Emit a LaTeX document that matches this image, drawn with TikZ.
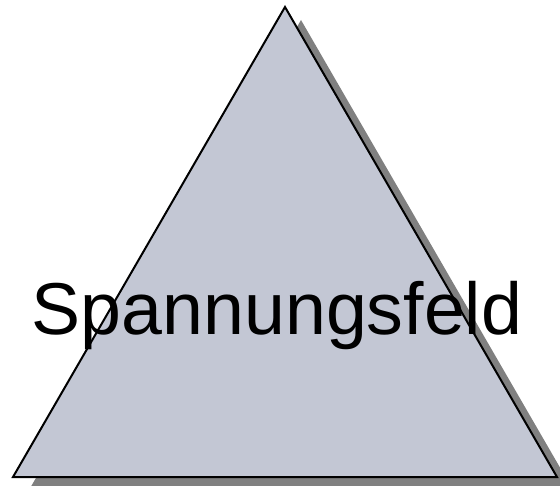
\documentclass[tikz,border=0pt]{standalone}
\usepackage{fontspec}
\setmainfont{Liberation Sans}
\definecolor{fieldfill}{RGB}{195,199,212}
\definecolor{shadowgray}{RGB}{128,128,128}
\begin{document}
\begin{tikzpicture}[x=1pt, y=1pt, every node/.style={font=\fontsize{73.5}{88}\selectfont, inner sep=0pt}]
        \useasboundingbox (0,0) rectangle (560,485);
        \coordinate (L) at (13,8);
        \coordinate (R) at (557,8);
        \coordinate (T) at (285,478);
        \fill[shadowgray, transform canvas={shift={(16pt,-13pt)}}] (L)--(R)--(T)--cycle;
        \filldraw[fill=fieldfill, line width=2pt] (L)--(R)--(T)--cycle;
        \node[anchor=base] (feld) at (277,150) {Spannungsfeld};
    \end{tikzpicture}
\end{document}
